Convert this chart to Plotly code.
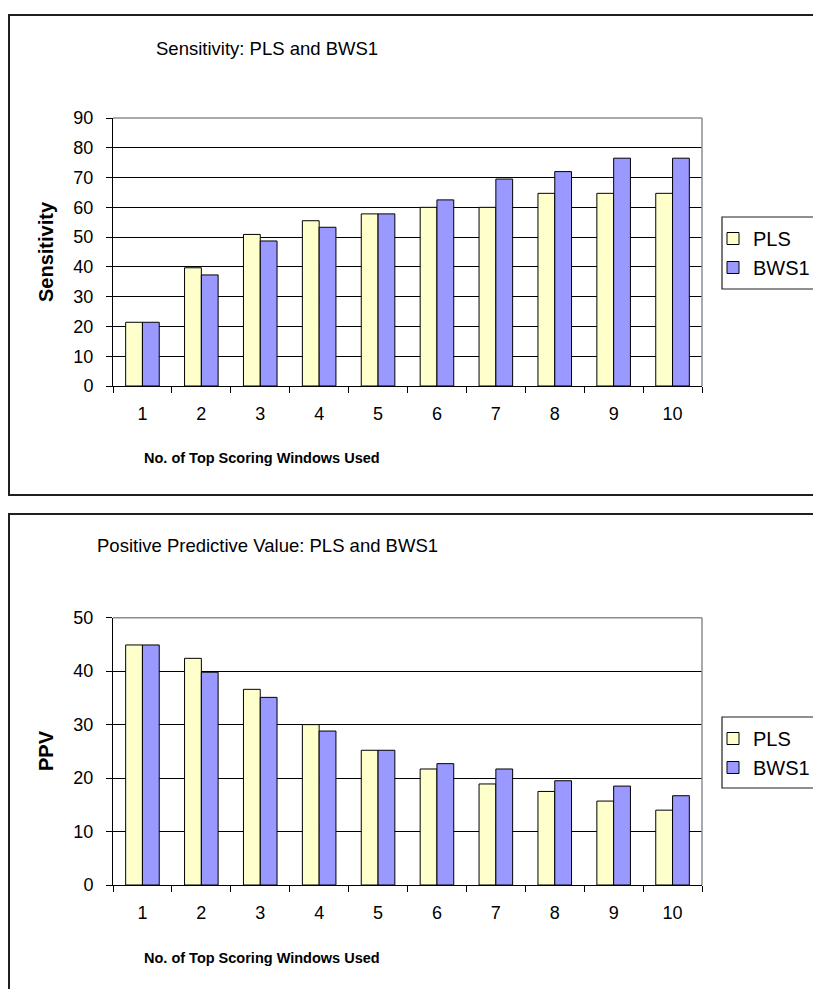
import plotly.graph_objects as go

# Number of top-scoring windows used
windows = ["1", "2", "3", "4", "5", "6", "7", "8", "9", "10"]

# Sensitivity (%)
sens_pls = [21.4, 39.7, 50.9, 55.5, 57.8, 60.0, 60.0, 64.7, 64.7, 64.7]
sens_bws1 = [21.4, 37.3, 48.7, 53.3, 57.8, 62.5, 69.5, 72.0, 76.5, 76.5]

# Positive predictive value (%)
ppv_pls = [44.9, 42.4, 36.6, 30.0, 25.2, 21.7, 18.9, 17.5, 15.7, 14.0]
ppv_bws1 = [44.9, 39.8, 35.1, 28.8, 25.2, 22.7, 21.7, 19.5, 18.5, 16.7]

sens_ticks = list(range(0, 91, 10))
ppv_ticks = list(range(0, 51, 10))

W, H = 813, 989
PLS_COLOR = "#FFFFCC"
BWS_COLOR = "#9999FF"
FONT = "Arial, Liberation Sans, sans-serif"


def fx(px):
    return px / W


def fy(py):
    return 1 - py / H


fig = go.Figure()

# Top panel: sensitivity
fig.add_trace(go.Bar(x=windows, y=sens_pls, name="PLS", marker=dict(color=PLS_COLOR, line=dict(color="black", width=1)),
                     xaxis="x", yaxis="y", legend="legend", legendgroup="a"))
fig.add_trace(go.Bar(x=windows, y=sens_bws1, name="BWS1", marker=dict(color=BWS_COLOR, line=dict(color="black", width=1)),
                     xaxis="x", yaxis="y", legend="legend", legendgroup="b"))
# Bottom panel: PPV
fig.add_trace(go.Bar(x=windows, y=ppv_pls, name="PLS", marker=dict(color=PLS_COLOR, line=dict(color="black", width=1)),
                     xaxis="x2", yaxis="y2", legend="legend2", legendgroup="c"))
fig.add_trace(go.Bar(x=windows, y=ppv_bws1, name="BWS1", marker=dict(color=BWS_COLOR, line=dict(color="black", width=1)),
                     xaxis="x2", yaxis="y2", legend="legend2", legendgroup="d"))

PLOT_L, PLOT_R = 113, 702
panels = [
    # (plot top px, plot bottom px, legend box top px, legend box bottom px)
    (118, 386, 217, 289),
    (617.7, 885, 717, 788),
]

xaxis_common = dict(
    type="category", domain=[fx(PLOT_L), fx(PLOT_R)], showline=True, linecolor="black", linewidth=1,
    ticks="outside", tickson="boundaries", ticklen=6, tickcolor="black", tickwidth=1,
    tickfont=dict(family=FONT, size=18, color="black"), ticklabelstandoff=11,
    showgrid=False, zeroline=False, fixedrange=True,
)
yaxis_common = dict(
    showline=True, linecolor="black", linewidth=1, ticks="outside", ticklen=6, tickcolor="black",
    tickfont=dict(family=FONT, size=18, color="black"), ticklabelstandoff=9,
    showgrid=True, gridcolor="black", gridwidth=1, zeroline=False, fixedrange=True,
)

fig.update_layout(
    xaxis=dict(**xaxis_common, anchor="y"),
    yaxis=dict(**yaxis_common, anchor="x", domain=[fy(386), fy(118)], range=[0, 90], tickvals=sens_ticks),
    xaxis2=dict(**xaxis_common, anchor="y2"),
    yaxis2=dict(**yaxis_common, anchor="x2", domain=[fy(885), fy(617.7)], range=[0, 50], tickvals=ppv_ticks),
)

legend_common = dict(
    font=dict(family=FONT, size=20, color="black"), bgcolor="rgba(0,0,0,0)",
    borderwidth=0, xanchor="left", yanchor="top",
    tracegroupgap=0, traceorder="grouped",
)
fig.update_layout(
    legend=dict(**legend_common, x=fx(713), y=fy(219)),
    legend2=dict(**legend_common, x=fx(713), y=fy(719)),
)

shapes = []
for top, bottom, ltop, lbottom in panels:
    # Gray plot-area edges (top and right)
    shapes.append(dict(type="line", xref="paper", yref="paper", x0=fx(PLOT_L), x1=fx(PLOT_R), y0=fy(top), y1=fy(top),
                       line=dict(color="#8c8c8c", width=1.5), layer="above"))
    shapes.append(dict(type="line", xref="paper", yref="paper", x0=fx(PLOT_R), x1=fx(PLOT_R), y0=fy(top), y1=fy(bottom),
                       line=dict(color="#8c8c8c", width=1.5), layer="above"))
    # Legend frame
    shapes.append(dict(type="rect", xref="paper", yref="paper", x0=fx(722), x1=fx(830), y0=fy(lbottom), y1=fy(ltop),
                       line=dict(color="#202020", width=1.2), fillcolor="white", layer="below"))
# Chart frames
shapes.append(dict(type="rect", xref="paper", yref="paper", x0=fx(9), x1=fx(830), y0=fy(495), y1=fy(15),
                   line=dict(color="#202020", width=2), layer="below"))
shapes.append(dict(type="rect", xref="paper", yref="paper", x0=fx(9), x1=fx(830), y0=fy(1010), y1=fy(514),
                   line=dict(color="#202020", width=2), layer="below"))

annotations = []
texts = [
    ("Sensitivity: PLS and BWS1", "Sensitivity", 48, 458, 252),
    ("Positive Predictive Value: PLS and BWS1", "PPV", 545, 958, 751),
]
for title, ytitle, ty, xty, yty in texts:
    annotations.append(dict(text=title, xref="paper", yref="paper", x=fx(267), y=fy(ty), showarrow=False,
                            xanchor="center", yanchor="middle", font=dict(family=FONT, size=18.5, color="black")))
    annotations.append(dict(text="<b>No. of Top Scoring Windows Used</b>", xref="paper", yref="paper", x=fx(262),
                            y=fy(xty), showarrow=False, xanchor="center", yanchor="middle",
                            font=dict(family=FONT, size=14.5, color="black")))
    annotations.append(dict(text=f"<b>{ytitle}</b>", xref="paper", yref="paper", x=fx(46), y=fy(yty), textangle=-90,
                            showarrow=False, xanchor="center", yanchor="middle",
                            font=dict(family=FONT, size=20, color="black")))

fig.update_layout(
    width=W, height=H, margin=dict(l=0, r=0, t=0, b=0, pad=0, autoexpand=False),
    paper_bgcolor="white", plot_bgcolor="white",
    barmode="group", bargap=0.43, bargroupgap=0,
    shapes=shapes, annotations=annotations, showlegend=True,
)

fig.write_html("out.html", config=dict(displayModeBar=False))
